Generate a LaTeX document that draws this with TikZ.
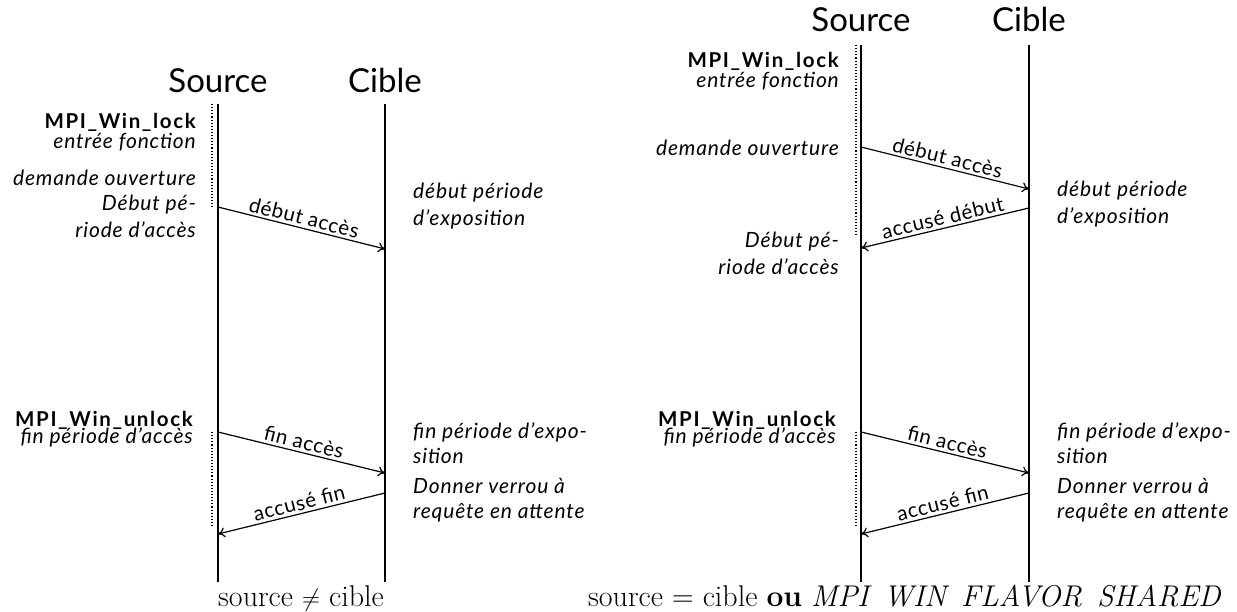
\documentclass[tikz,border=0pt]{standalone}
\usepackage{fontspec}
\setsansfont{Lato}
\newfontfamily\notefont[LetterSpace=4]{Lato}
\newfontfamily\fnfont[LetterSpace=8]{Lato}
\newfontfamily\msgfont[LetterSpace=3]{Lato}
\usetikzlibrary{arrows.meta}
\tikzset{
  lifeline/.style={line width=1.3pt},
  waitline/.style={dotted, line width=1.1pt},
  msg/.style={line width=1.2pt, -{To[length=7pt,width=10pt]}},
  msglabel/.style={font=\msgfont\fontsize{20.5}{24}\selectfont, sloped, above, inner sep=2.5pt},
  title/.style={font=\sffamily\fontsize{33}{38}\selectfont, anchor=base, inner sep=0pt},
  fname/.style={font=\fnfont\bfseries\fontsize{20.5}{24}\selectfont, anchor=base east, inner sep=0pt},
  lnote/.style={font=\notefont\itshape\fontsize{21}{25}\selectfont, anchor=base east, inner sep=0pt},
  rnote/.style={font=\notefont\itshape\fontsize{21}{25}\selectfont, anchor=base west, inner sep=0pt},
  caption/.style={font=\fontsize{30}{34}\selectfont, inner sep=0pt},
}
\begin{document}
\begin{tikzpicture}[x=1pt,y=-1pt]
\useasboundingbox (0,0) rectangle (1237,611);

%%%%% left diagram: source != cible
\node[title] (srcL) at (218,92) {Source};
\node[title] (cibL) at (385,92) {Cible};
\coordinate (sLt) at (218,104); \coordinate (sLb) at (218,582);
\coordinate (cLt) at (385,104); \coordinate (cLb) at (385,582);
\draw[lifeline] (sLt) -- (sLb);
\draw[lifeline] (cLt) -- (cLb);
\coordinate (wL1a) at (212,104); \coordinate (wL1b) at (212,207);
\coordinate (wL2a) at (212,432); \coordinate (wL2b) at (212,528);
\draw[waitline] (wL1a) -- (wL1b);
\draw[waitline] (wL2a) -- (wL2b);

\node[fname] (lockL) at (196,128) {MPI\_Win\_lock};
\node[lnote] (entreeL) at (196,148) {entrée fonction};
\node[lnote] (demL) at (196,185) {demande ouverture};
\node[lnote] (debL1) at (196,210) {Début pé-};
\node[lnote] (debL2) at (196,237) {riode d’accès};
\node[fname] (unlockL) at (193,426) {MPI\_Win\_unlock};
\node[lnote] (finL) at (193,443) {fin période d’accès};

\node[rnote] (expL1) at (413,198) {début période};
\node[rnote] (expL2) at (413,225) {d’exposition};
\node[rnote] (fexpL1) at (413,438) {fin période d’expo-};
\node[rnote] (fexpL2) at (413,463) {sition};
\node[rnote] (donL1) at (413,493) {Donner verrou à};
\node[rnote] (donL2) at (413,518) {requête en attente};

\coordinate (aL1s) at (218,207); \coordinate (aL1e) at (385,249);
\coordinate (aL2s) at (218,432); \coordinate (aL2e) at (385,473);
\coordinate (aL3s) at (385,493); \coordinate (aL3e) at (218,534);
\draw[msg] (aL1s) -- node[msglabel] (mL1) {début accès} (aL1e);
\draw[msg] (aL2s) -- node[msglabel] (mL2) {fin accès} (aL2e);
\draw[msg] (aL3s) -- node[msglabel] (mL3) {accusé fin} (aL3e);

\node[caption, anchor=base] (capL) at (301,606) {source $\neq$ cible};

%%%%% right diagram: source = cible ou shared
\node[title] (srcR) at (861,31) {Source};
\node[title] (cibR) at (1029,31) {Cible};
\coordinate (sRt) at (861,45); \coordinate (sRb) at (861,582);
\coordinate (cRt) at (1029,45); \coordinate (cRb) at (1029,582);
\draw[lifeline] (sRt) -- (sRb);
\draw[lifeline] (cRt) -- (cRb);
\coordinate (wR1a) at (856,45); \coordinate (wR1b) at (856,237);
\coordinate (wR2a) at (856,432); \coordinate (wR2b) at (856,528);
\draw[waitline] (wR1a) -- (wR1b);
\draw[waitline] (wR2a) -- (wR2b);

\node[fname] (lockR) at (839,67) {MPI\_Win\_lock};
\node[lnote] (entreeR) at (839,87) {entrée fonction};
\node[lnote] (demR) at (839,155) {demande ouverture};
\node[lnote] (debR1) at (839,247) {Début pé-};
\node[lnote] (debR2) at (839,274) {riode d’accès};
\node[fname] (unlockR) at (836,426) {MPI\_Win\_unlock};
\node[lnote] (finR) at (836,443) {fin période d’accès};

\node[rnote] (expR1) at (1057,196) {début période};
\node[rnote] (expR2) at (1057,223) {d’exposition};
\node[rnote] (fexpR1) at (1057,438) {fin période d’expo-};
\node[rnote] (fexpR2) at (1057,463) {sition};
\node[rnote] (donR1) at (1057,493) {Donner verrou à};
\node[rnote] (donR2) at (1057,518) {requête en attente};

\coordinate (aR1s) at (861,147); \coordinate (aR1e) at (1029,189);
\coordinate (aR2s) at (1029,208); \coordinate (aR2e) at (861,248);
\coordinate (aR3s) at (861,432); \coordinate (aR3e) at (1029,473);
\coordinate (aR4s) at (1029,493); \coordinate (aR4e) at (861,534);
\draw[msg] (aR1s) -- node[msglabel] (mR1) {début accès} (aR1e);
\draw[msg] (aR2s) -- node[msglabel] (mR2) {accusé début} (aR2e);
\draw[msg] (aR3s) -- node[msglabel] (mR3) {fin accès} (aR3e);
\draw[msg] (aR4s) -- node[msglabel] (mR4) {accusé fin} (aR4e);

\node[caption, anchor=base west] (capR) at (588,606) {source = cible \textbf{ou} \textit{MPI\hspace{0.5em}WIN\hspace{0.5em}FLAVOR\hspace{0.5em}SHARED}};
\end{tikzpicture}
\end{document}
